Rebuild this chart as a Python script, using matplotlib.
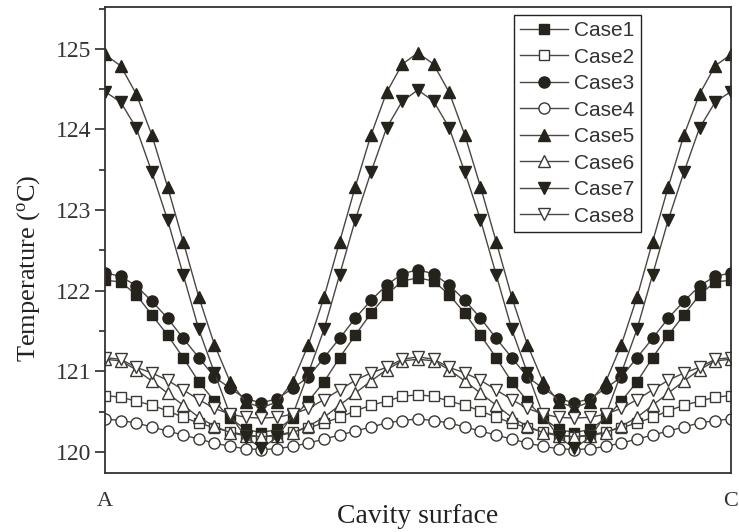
import numpy as np
import matplotlib
matplotlib.use("Agg")
import matplotlib.pyplot as plt
from matplotlib.ticker import MultipleLocator

plt.rcParams['mathtext.fontset'] = 'custom'
plt.rcParams['mathtext.rm'] = 'Liberation Serif'
plt.rcParams['mathtext.it'] = 'Liberation Serif:italic'

positions = np.arange(41)

case1 = [122.13, 122.11, 121.95, 121.70, 121.45, 121.17, 120.87, 120.63, 120.42, 120.28, 120.24,
         120.28, 120.42, 120.63, 120.87, 121.17, 121.45, 121.72, 121.95, 122.12, 122.16,
         122.12, 121.95, 121.72, 121.45, 121.17, 120.87, 120.63, 120.42, 120.28, 120.24,
         120.28, 120.42, 120.63, 120.87, 121.17, 121.45, 121.70, 121.95, 122.11, 122.13]
case2 = [120.70, 120.68, 120.63, 120.58, 120.51, 120.43, 120.36, 120.30, 120.25, 120.21, 120.19,
         120.21, 120.25, 120.30, 120.36, 120.43, 120.51, 120.58, 120.63, 120.69, 120.71,
         120.69, 120.63, 120.58, 120.51, 120.43, 120.36, 120.30, 120.25, 120.21, 120.19,
         120.21, 120.25, 120.30, 120.36, 120.43, 120.51, 120.58, 120.63, 120.68, 120.70]
case3 = [122.22, 122.18, 122.06, 121.87, 121.66, 121.41, 121.17, 120.93, 120.79, 120.66, 120.61,
         120.66, 120.79, 120.93, 121.17, 121.41, 121.66, 121.88, 122.07, 122.21, 122.26,
         122.21, 122.07, 121.88, 121.66, 121.41, 121.17, 120.93, 120.79, 120.66, 120.61,
         120.66, 120.79, 120.93, 121.17, 121.41, 121.66, 121.87, 122.06, 122.18, 122.22]
case4 = [120.41, 120.39, 120.36, 120.31, 120.26, 120.21, 120.16, 120.11, 120.07, 120.04, 120.03,
         120.04, 120.07, 120.11, 120.16, 120.21, 120.26, 120.31, 120.36, 120.39, 120.41,
         120.39, 120.36, 120.31, 120.26, 120.21, 120.16, 120.11, 120.07, 120.04, 120.03,
         120.04, 120.07, 120.11, 120.16, 120.21, 120.26, 120.31, 120.36, 120.39, 120.41]
case5 = [124.93, 124.79, 124.44, 123.93, 123.29, 122.61, 121.92, 121.33, 120.87, 120.62, 120.55,
         120.62, 120.87, 121.33, 121.92, 122.61, 123.29, 123.93, 124.46, 124.81, 124.95,
         124.81, 124.46, 123.93, 123.29, 122.61, 121.92, 121.33, 120.87, 120.62, 120.55,
         120.62, 120.87, 121.33, 121.92, 122.61, 123.29, 123.93, 124.44, 124.79, 124.93]
case6 = [121.15, 121.13, 121.02, 120.88, 120.73, 120.58, 120.43, 120.32, 120.24, 120.20, 120.19,
         120.20, 120.24, 120.32, 120.43, 120.58, 120.73, 120.88, 121.02, 121.13, 121.15,
         121.13, 121.02, 120.88, 120.73, 120.58, 120.43, 120.32, 120.24, 120.20, 120.19,
         120.20, 120.24, 120.32, 120.43, 120.58, 120.73, 120.88, 121.02, 121.13, 121.15]
case7 = [124.47, 124.34, 124.02, 123.47, 122.88, 122.20, 121.52, 120.98, 120.46, 120.18, 120.05,
         120.18, 120.46, 120.98, 121.52, 122.20, 122.88, 123.47, 124.02, 124.35, 124.49,
         124.35, 124.02, 123.47, 122.88, 122.20, 121.52, 120.98, 120.46, 120.18, 120.05,
         120.18, 120.46, 120.98, 121.52, 122.20, 122.88, 123.47, 124.02, 124.34, 124.47]
case8 = [121.17, 121.15, 121.05, 120.98, 120.89, 120.77, 120.65, 120.54, 120.47, 120.43, 120.42,
         120.43, 120.47, 120.54, 120.65, 120.77, 120.89, 120.98, 121.05, 121.15, 121.18,
         121.15, 121.05, 120.98, 120.89, 120.77, 120.65, 120.54, 120.47, 120.43, 120.42,
         120.43, 120.47, 120.54, 120.65, 120.77, 120.89, 120.98, 121.05, 121.15, 121.17]

series_names = ["Case1", "Case2", "Case3", "Case4", "Case5", "Case6", "Case7", "Case8"]
series_values = [case1, case2, case3, case4, case5, case6, case7, case8]
markers = ["s", "s", "o", "o", "^", "^", "v", "v"]
filled = [True, False, True, False, True, False, True, False]
msizes = [7.5, 7.5, 8, 8, 9, 9, 9, 9]

ytick_values = [120, 121, 122, 123, 124, 125]
dark = "#26221c"
line_col = "#4a4742"
open_edge = "#3a3834"

fig = plt.figure(figsize=(7.39, 5.32), dpi=100)
ax = fig.add_axes([0.142, 0.111, 0.847, 0.876])

for name, vals, m, f, ms in zip(series_names, series_values, markers, filled, msizes):
    ax.plot(positions, vals, color=line_col, lw=1.0, marker=m, markersize=ms,
            markerfacecolor=dark if f else "white",
            markeredgecolor=dark if f else open_edge,
            markeredgewidth=1.0, label=name)

ax.set_xlim(0, 40)
ax.set_ylim(119.74, 125.52)
ax.set_xticks([])
ax.set_yticks(ytick_values)
ax.yaxis.set_minor_locator(MultipleLocator(0.5))
ax.tick_params(axis='y', which='major', direction='out', length=7, width=1.2,
               colors="#2a2a2a", labelsize=17, pad=3)
ax.tick_params(axis='y', which='minor', direction='out', length=4, width=1.2, colors="#2a2a2a")
for lab in ax.get_yticklabels():
    lab.set_fontfamily("Liberation Serif")
    lab.set_color("#333333")
for sp in ax.spines.values():
    sp.set_color("#333333")
    sp.set_linewidth(1.3)

ax.set_ylabel(r"Temperature ($^{\mathrm{o}}$C)", fontfamily="Liberation Serif",
              fontsize=19, color="#222222")
ax.yaxis.set_label_coords(-0.100, 0.44)
ax.set_xlabel("Cavity surface", fontfamily="Liberation Serif", fontsize=20,
              color="#222222", labelpad=22)
ax.text(0, -0.062, "A", transform=ax.transAxes, ha="center", va="center",
        fontfamily="Liberation Serif", fontsize=16, color="#333333")
ax.text(1, -0.062, "C", transform=ax.transAxes, ha="center", va="center",
        fontfamily="Liberation Serif", fontsize=16, color="#333333")

leg = ax.legend(loc="upper right", bbox_to_anchor=(0.856, 0.983), borderaxespad=0,
                prop={"family": "Liberation Sans", "size": 15}, frameon=True,
                fancybox=False, framealpha=1, edgecolor="#222222",
                handlelength=2.3, handletextpad=0.3, labelspacing=0.36,
                borderpad=0.3)
leg.get_frame().set_linewidth(1.0)
for t in leg.get_texts():
    t.set_color("#333333")

fig.savefig("out.png", dpi=100)
